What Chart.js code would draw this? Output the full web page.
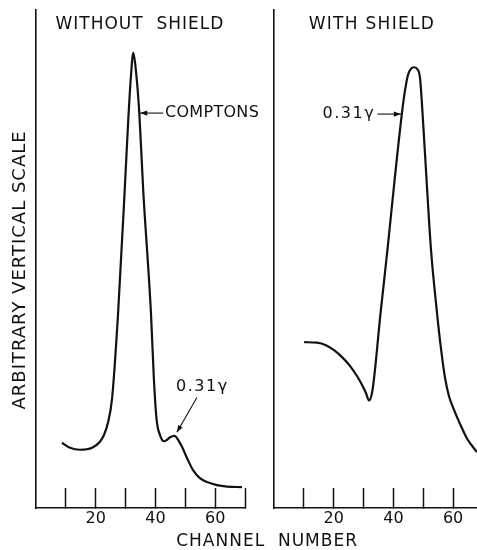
<!DOCTYPE html>
<html><head><meta charset="utf-8">
<script src="https://cdn.jsdelivr.net/npm/chart.js@4/dist/chart.umd.min.js"></script>
<style>
html,body{margin:0;padding:0;background:#fff;}
#wrap{position:relative;width:477px;height:550px;background:#fff;}
#wrap canvas{position:absolute;left:0;top:0;}
</style></head><body>
<div id="wrap"><canvas id="c1" width="477" height="550"></canvas><canvas id="c2" width="477" height="550"></canvas></div>
<script>
// ---- data (channel number, arbitrary vertical scale 0-100) ----
const leftChannels = [8.7, 11.4, 14.7, 18.8, 21.4, 22.8, 24.1, 25.5, 27.5, 29.8, 30.9, 31.7, 32.6, 33.5, 34.6, 35.9, 38.5, 39.5, 40.4, 41.5, 42.9, 43.9, 44.9, 46.4, 47.6, 48.9, 50.6, 52.6, 54.9, 57.3, 60.6, 64.0, 69.0];
const leftCounts   = [13.1, 12.1, 11.7, 12.1, 13.3, 14.7, 17.1, 22.1, 39.2, 64.9, 77.9, 85.9, 91.4, 87.6, 79.3, 63.9, 39.2, 25.7, 17.7, 14.7, 13.4, 13.7, 14.2, 14.5, 13.7, 12.3, 10.0, 7.6, 6.0, 5.2, 4.6, 4.3, 4.2];
const rightChannels = [10.1, 14.4, 17.4, 20.1, 22.8, 25.5, 27.8, 29.5, 30.8, 31.8, 33.0, 35.7, 38.1, 40.4, 42.9, 43.9, 44.9, 45.9, 46.9, 47.9, 48.9, 49.9, 51.3, 52.6, 54.6, 56.0, 57.3, 58.6, 60.3, 62.3, 64.7, 68.0];
const rightCounts   = [33.3, 33.2, 32.7, 31.7, 30.3, 28.5, 26.5, 24.7, 23.1, 21.6, 23.7, 39.2, 52.4, 65.9, 79.5, 83.9, 87.0, 88.2, 88.5, 88.2, 86.4, 77.9, 63.9, 51.8, 39.2, 31.7, 26.1, 22.5, 19.7, 16.9, 13.9, 11.2];
const tickValues = [10, 20, 30, 40, 50, 60, 70];
const tickLabels = [20, 40, 60];
const panelTitles = ['WITHOUT  SHIELD', 'WITH SHIELD'];
const yAxisTitle = 'ARBITRARY VERTICAL SCALE';
const xAxisTitle = 'CHANNEL  NUMBER';
const peakLabels = ['COMPTONS', '0.31\u03b3'];

const INK = '#111';
const FONT = '"DejaVu Sans", "Liberation Sans", sans-serif';

function toPoints(xs, ys) { return xs.map((x, i) => ({x: x, y: ys[i]})); }

function arrow(ctx, x1, y1, x2, y2) {
  ctx.beginPath(); ctx.moveTo(x1, y1); ctx.lineTo(x2, y2); ctx.stroke();
  const a = Math.atan2(y2 - y1, x2 - x1), L = 7, W = 2.6;
  ctx.beginPath(); ctx.moveTo(x2, y2);
  ctx.lineTo(x2 - L * Math.cos(a) + W * Math.sin(a), y2 - L * Math.sin(a) - W * Math.cos(a));
  ctx.lineTo(x2 - L * Math.cos(a) - W * Math.sin(a), y2 - L * Math.sin(a) + W * Math.cos(a));
  ctx.closePath(); ctx.fill();
}

function annotPlugin(notes) {
  return {
    id: 'annot',
    afterDraw(chart) {
      const ctx = chart.ctx, xs = chart.scales.x, ys = chart.scales.y;
      ctx.save();
      ctx.fillStyle = INK; ctx.strokeStyle = INK; ctx.lineWidth = 1.1;
      ctx.textBaseline = 'middle';
      notes.forEach(n => {
        if (n.type === 'text') {
          ctx.font = n.size + 'px ' + FONT;
          ctx.letterSpacing = (n.spacing || 0) + 'px';
          ctx.textAlign = n.align || 'center';
          ctx.fillText(n.text, xs.getPixelForValue(n.x), ys.getPixelForValue(n.y));
        } else if (n.type === 'vtext') {
          ctx.font = n.size + 'px ' + FONT;
          ctx.letterSpacing = (n.spacing || 0) + 'px';
          ctx.textAlign = 'center';
          ctx.save();
          ctx.translate(chart.chartArea.left + n.dx, ys.getPixelForValue(n.y));
          ctx.rotate(-Math.PI / 2);
          ctx.fillText(n.text, 0, 0);
          ctx.restore();
        } else if (n.type === 'btext') {
          ctx.font = n.size + 'px ' + FONT;
          ctx.letterSpacing = (n.spacing || 0) + 'px';
          ctx.textAlign = 'center';
          ctx.fillText(n.text, xs.getPixelForValue(n.x), chart.chartArea.bottom + n.dy);
        } else if (n.type === 'arrow') {
          arrow(ctx, xs.getPixelForValue(n.x1), ys.getPixelForValue(n.y1),
                     xs.getPixelForValue(n.x2), ys.getPixelForValue(n.y2));
        }
      });
      ctx.restore();
    }
  };
}

function makeChart(id, xs, ys, xMax, padLeft, padRight, notes) {
  return new Chart(document.getElementById(id), {
    type: 'line',
    data: { datasets: [{
      data: toPoints(xs, ys),
      borderColor: INK, borderWidth: 2.2, pointRadius: 0,
      cubicInterpolationMode: 'monotone', fill: false
    }]},
    options: {
      responsive: false, animation: false, devicePixelRatio: 1,
      layout: { padding: { left: padLeft, right: padRight, top: 10, bottom: 0 } },
      plugins: { legend: { display: false }, tooltip: { enabled: false }, title: { display: false } },
      scales: {
        x: {
          type: 'linear', min: 0, max: xMax,
          afterBuildTicks: s => { s.ticks = tickValues.filter(v => v <= xMax).map(v => ({value: v})); },
          afterFit: s => { s.height = 42; s.paddingLeft = 0; s.paddingRight = 0; },
          ticks: {
            autoSkip: false, maxRotation: 0, padding: 21, color: INK,
            font: { family: FONT, size: 16 },
            callback: v => tickLabels.includes(v) ? String(v) : ''
          },
          grid: { display: true, drawOnChartArea: false, drawTicks: true, tickLength: -20,
                  tickColor: INK, tickWidth: 1.5, color: INK },
          border: { display: true, color: INK, width: 1.6 }
        },
        y: {
          type: 'linear', min: 0, max: 100,
          afterFit: s => { s.width = 36; s.paddingTop = 0; s.paddingBottom = 0; },
          ticks: { display: false },
          grid: { display: false },
          border: { display: true, color: INK, width: 1.6 }
        }
      }
    },
    plugins: [annotPlugin(notes)]
  });
}

makeChart('c1', leftChannels, leftCounts, 70, 0, 232, [
  {type: 'text', text: panelTitles[0], x: 34.8, y: 97.0, size: 17, spacing: 1},
  {type: 'text', text: peakLabels[0], x: 43.2, y: 79.3, size: 16, spacing: 0.3, align: 'left'},
  {type: 'arrow', x1: 42.6, y1: 79.3, x2: 34.9, y2: 79.3},
  {type: 'text', text: peakLabels[1], x: 46.9, y: 24.3, size: 16, spacing: 1.5, align: 'left'},
  {type: 'arrow', x1: 53.9, y1: 22.2, x2: 47.2, y2: 15.2},
  {type: 'vtext', text: yAxisTitle, dx: -16, y: 47.8, size: 18, spacing: 1},
  {type: 'btext', text: xAxisTitle, x: 77.4, dy: 34, size: 17, spacing: 1}
]);

makeChart('c2', rightChannels, rightCounts, 68, 238, 0, [
  {type: 'text', text: panelTitles[1], x: 32.8, y: 97.0, size: 17, spacing: 1.3},
  {type: 'text', text: peakLabels[1], x: 33.9, y: 79.1, size: 16, spacing: 1.5, align: 'right'},
  {type: 'arrow', x1: 34.7, y1: 79.1, x2: 42.5, y2: 79.1}
]);
</script>
</body></html>
